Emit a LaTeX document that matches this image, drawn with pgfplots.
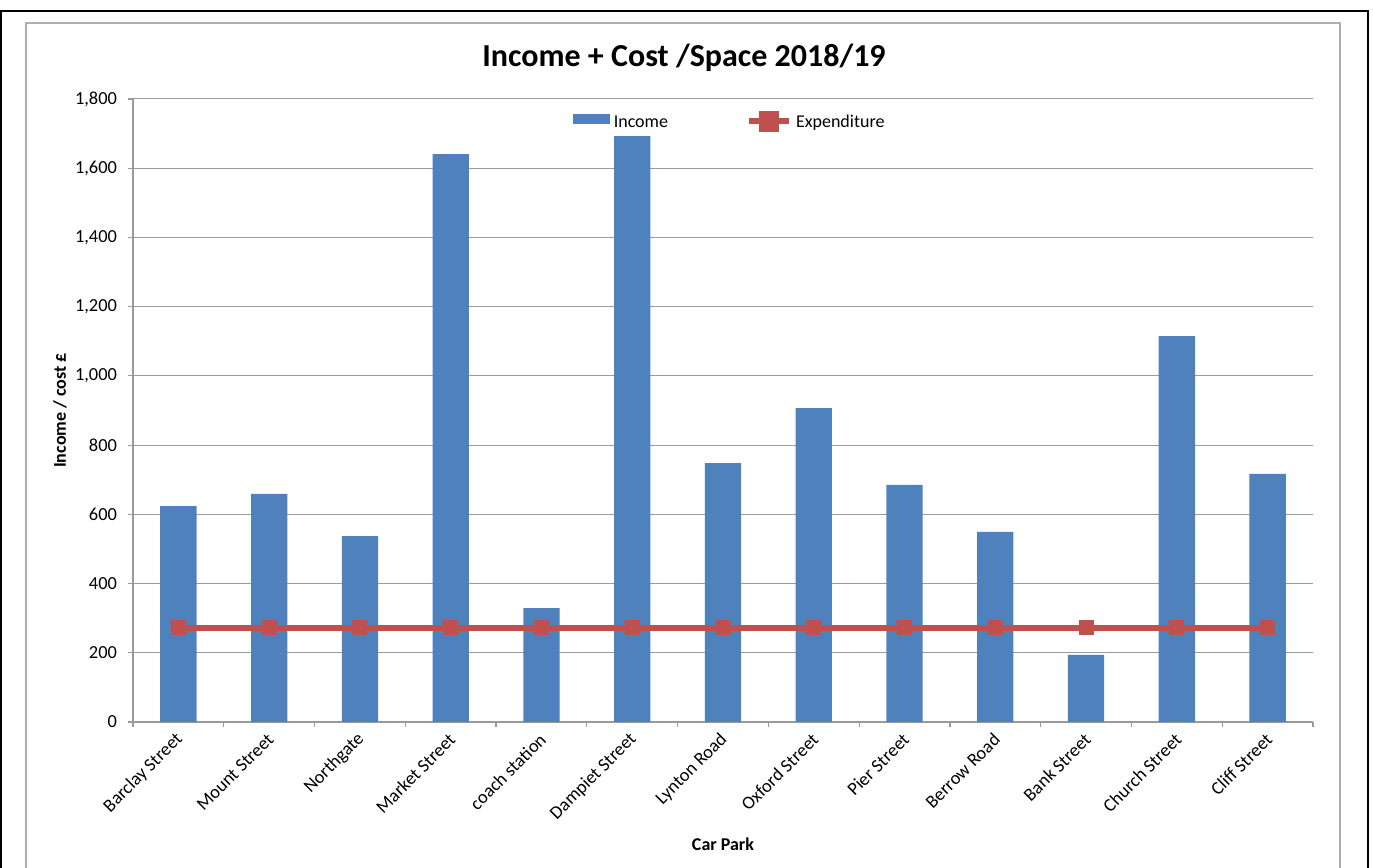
\documentclass[border=0pt]{standalone}
\usepackage{pgfplots}
\pgfplotsset{compat=1.18}
\usepackage{fontspec}
\setmainfont{Carlito}
\definecolor{incblue}{HTML}{4F81BD}
\definecolor{expred}{HTML}{C0504D}
\definecolor{axgray}{HTML}{9A9A9A}
\pgfplotstableread{
x income expend
0 624 272
1 659 272
2 537 272
3 1641 272
4 329 272
5 1693 272
6 748 272
7 907 272
8 685 272
9 549 272
10 194 272
11 1115 272
12 717 272
}\datatable
\begin{document}
\begin{tikzpicture}
\useasboundingbox (0pt,0pt) rectangle (686.5pt,434pt);
\begin{scope}
\clip (0pt,0pt) rectangle (686.5pt,434pt);
\draw[black, line width=1.3pt] (0.5pt,-5pt) -- (0.5pt,428.5pt) -- (684pt,428.5pt) -- (684pt,-5pt);
\draw[axgray!80, line width=1pt] (13pt,-5pt) -- (13pt,422.5pt) -- (670pt,422.5pt) -- (670pt,-5pt);
\end{scope}
\begin{axis}[
  at={(66.5pt,73pt)}, anchor=south west,
  scale only axis, width=590pt, height=311.5pt,
  xmin=-0.5, xmax=12.5, ymin=0, ymax=1800,
  ytick distance=200,
  xtick={0,...,12},
  xticklabels={Barclay Street,Mount Street,Northgate,Market Street,coach station,Dampiet Street,Lynton Road,Oxford Street,Pier Street,Berrow Road,Bank Street,Church Street,Cliff Street},
  major x tick style={draw=none},
  minor xtick={-0.5,0.5,...,12.5},
  minor tick length=2.5pt,
  major tick length=2.5pt,
  tick align=outside,
  axis x line*=bottom, axis y line*=left,
  axis line style={axgray, line width=0.6pt},
  tick style={axgray, line width=0.6pt},
  ymajorgrids, grid style={axgray, line width=0.5pt},
  /pgf/number format/assume math mode=true,
  /pgf/number format/1000 sep={,},
  ticklabel style={font=\fontsize{9.2}{11}\selectfont},
  xticklabel style={xshift=1.5pt, yshift=-4pt, rotate=45, anchor=east, inner sep=1pt},
  yticklabel style={xshift=-2pt},
  every axis title shift=0pt,
  title={Income + Cost /Space 2018/19},
  title style={at={(axis description cs:0.467,1.066)}, anchor=center, font=\fontsize{16}{19}\selectfont\bfseries},
  xlabel={Car Park},
  xlabel style={at={(axis description cs:0.5,-0.197)}, anchor=center, font=\fontsize{9}{11}\selectfont\bfseries},
  ylabel={Income / cost £},
  ylabel style={at={(axis description cs:-0.062,0.5)}, anchor=center, rotate=0, font=\fontsize{9}{11}\selectfont\bfseries},
  legend style={at={(0.5065,0.962)}, anchor=center, draw=none, fill=none,
    font=\fontsize{9}{11}\selectfont, legend columns=2,
    /tikz/every even column/.append style={column sep=37pt}},
  clip=false,
]
\addplot[ybar, bar width=0.4, bar shift=0pt, fill=incblue, draw=none,
  legend image code/.code={\fill[incblue] (0pt,-0.8pt) rectangle (18.5pt,4.2pt);}]
  table[x=x, y=income] {\datatable};
\addlegendentry{Income}
\addplot[expred, line width=3pt, mark=square*, mark size=3.5pt, mark options={solid, line width=0pt},
  legend image code/.code={\draw[expred, line width=3pt] (0pt,0.8pt) -- (20pt,0.8pt);
    \fill[expred] (6.3pt,-2.9pt) rectangle (13.7pt,4.5pt);}]
  table[x=x, y=expend] {\datatable};
\addlegendentry{Expenditure}
\end{axis}
\end{tikzpicture}
\end{document}
